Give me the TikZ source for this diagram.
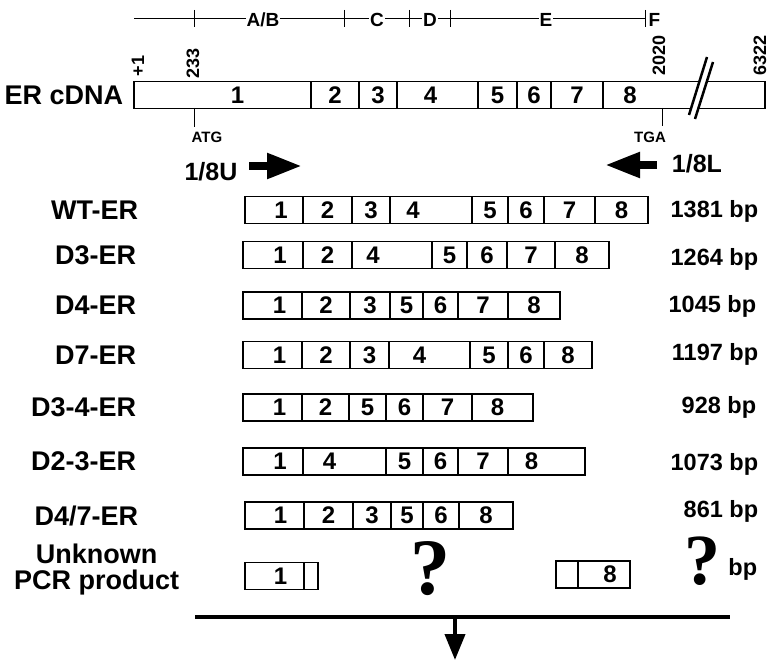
\documentclass[tikz,border=0pt]{standalone}
\usepackage{fontspec}
\setmainfont{Liberation Sans}
\newfontfamily\qmfont{Liberation Serif}
\usetikzlibrary{arrows.meta, positioning}

\begin{document}
\begin{tikzpicture}[
    x=1pt, y=-1pt, line width=1pt,
    exnum/.style={font=\fontsize{24}{24}\selectfont\bfseries},
    exon/.style={draw, line width=1.3pt, minimum height=27pt, inner sep=0pt,
        outer sep=0pt, exnum},
    exbox/.style={exon, minimum width=#1},
    exnumat/.style 2 args={label={[exnum, xshift=#1]center:#2}},
    rowlab/.style={anchor=east, font=\fontsize{27}{26}\selectfont\bfseries},
    primlab/.style={anchor=base, font=\fontsize{25}{25}\selectfont\bfseries},
    bplab/.style={anchor=base east, font=\fontsize{23.5}{23.5}\selectfont\bfseries},
    sitelab/.style={rotate=90, anchor=west, inner sep=1pt,
        font=\fontsize{18}{18}\selectfont\bfseries},
    domlab/.style={anchor=base, fill=white, inner sep=1pt,
        font=\fontsize{19}{19}\selectfont\bfseries},
    codon/.style={font=\fontsize{15}{15}\selectfont\bfseries},
    primer/.style={line width=8pt, -{Triangle[length=35pt, width=24pt]}},
    qm/.style={font=\fontsize{80}{80}\qmfont\bfseries}
  ]
  \useasboundingbox (0,0) rectangle (769,661);

  % domain ruler
  \draw (134,19) -- (645,19);
  \draw (194,10) -- (194,27) (344,10) -- (344,27) (409,10) -- (409,27)
        (450,10) -- (450,27) (645,10) -- (645,27);
  \node[domlab] (ab) at (263,27) {A/B};
  \node[domlab] (dc) at (377,27) {C};
  \node[domlab] (dd) at (430,27) {D};
  \node[domlab] (de) at (546,27) {E};
  \node[domlab, anchor=base west] (df) at (647,27) {F};

  % ER cDNA
  \node[exbox=177pt, anchor=west, exnumat={15pt}{1}] (c1) at (134,95) {};
  \node[exbox=48pt, right=0pt of c1] (c2) {2};
  \node[exbox=38pt, right=0pt of c2] (c3) {3};
  \node[exbox=81pt, right=0pt of c3, exnumat={-7pt}{4}] (c4) {};
  \node[exbox=39pt, right=0pt of c4] (c5) {5};
  \node[exbox=34pt, right=0pt of c5] (c6) {6};
  \node[exbox=52pt, right=0pt of c6] (c7) {7};
  \node[exbox=162pt, right=0pt of c7, exnumat={-54pt}{8}] (c8) {};
  \node[rowlab, left=7pt of c1] (cdna) {ER cDNA};

  \node[sitelab] (s1) at (138,78) {+1};
  \node[sitelab] (s233) at (193,80) {233};
  \node[sitelab] (s2020) at (659,77) {2020};
  \node[sitelab] (s6322) at (760,77) {6322};

  \fill[white] (707,57) -- (713,62) -- (695,119) -- (689,115) -- cycle;
  \draw[line width=2.5pt] (707,57) -- (689,115) (713,62) -- (695,119);

  \draw (194,108) -- (194,127);
  \draw (662,108) -- (662,126);
  \node[codon] (atg) at (207,137) {ATG};
  \node[codon] (tga) at (650,137) {TGA};

  % primers
  \node[primlab] (pu) at (211,180) {1/8U};
  \node[primlab] (pl) at (697,172) {1/8L};
  \coordinate (pu-tail) at (249,166);
  \coordinate (pu-tip) at (302,166);
  \coordinate (pl-tail) at (657,165);
  \coordinate (pl-tip) at (605,165);
  \draw[primer] (pu-tail) -- (pu-tip);
  \draw[primer] (pl-tail) -- (pl-tip);

  % WT-ER
  \node[exbox=58pt, anchor=west, exnumat={7pt}{1}] (wt1) at (245,210) {};
  \node[exbox=49pt, right=0pt of wt1] (wt2) {2};
  \node[exbox=38pt, right=0pt of wt2] (wt3) {3};
  \node[exbox=82pt, right=0pt of wt3, exnumat={-18pt}{4}] (wt4) {};
  \node[exbox=36pt, right=0pt of wt4] (wt5) {5};
  \node[exbox=36pt, right=0pt of wt5] (wt6) {6};
  \node[exbox=51pt, right=0pt of wt6] (wt7) {7};
  \node[exbox=53pt, right=0pt of wt7] (wt8) {8};
  \node[rowlab, left=103pt of wt1] (wt) {WT-ER};
  \node[bplab] (bp-wt) at (762,217) {1381 bp};

  % D3-ER
  \node[exbox=60pt, anchor=west, exnumat={7pt}{1}] (d3-1) at (243,255) {};
  \node[exbox=49pt, right=0pt of d3-1] (d3-2) {2};
  \node[exbox=80pt, right=0pt of d3-2, exnumat={-19pt}{4}] (d3-4) {};
  \node[exbox=35pt, right=0pt of d3-4] (d3-5) {5};
  \node[exbox=40pt, right=0pt of d3-5] (d3-6) {6};
  \node[exbox=48pt, right=0pt of d3-6] (d3-7) {7};
  \node[exbox=54pt, right=0pt of d3-7] (d3-8) {8};
  \node[rowlab, left=103pt of d3-1] (d3) {D3-ER};
  \node[bplab] (bp-d3) at (762,265) {1264 bp};

  % D4-ER
  \node[exbox=59pt, anchor=west, exnumat={7pt}{1}] (d4-1) at (243,305.5) {};
  \node[exbox=48pt, right=0pt of d4-1] (d4-2) {2};
  \node[exbox=40pt, right=0pt of d4-2] (d4-3) {3};
  \node[exbox=33pt, right=0pt of d4-3] (d4-5) {5};
  \node[exbox=35pt, right=0pt of d4-5] (d4-6) {6};
  \node[exbox=50pt, right=0pt of d4-6] (d4-7) {7};
  \node[exbox=52pt, right=0pt of d4-7] (d4-8) {8};
  \node[rowlab, left=103pt of d4-1] (d4) {D4-ER};
  \node[bplab] (bp-d4) at (760,312) {1045 bp};

  % D7-ER
  \node[exbox=59pt, anchor=west, exnumat={7pt}{1}] (d7-1) at (243,355) {};
  \node[exbox=48pt, right=0pt of d7-1] (d7-2) {2};
  \node[exbox=39pt, right=0pt of d7-2] (d7-3) {3};
  \node[exbox=81pt, right=0pt of d7-3, exnumat={-10pt}{4}] (d7-4) {};
  \node[exbox=38pt, right=0pt of d7-4] (d7-5) {5};
  \node[exbox=36pt, right=0pt of d7-5] (d7-6) {6};
  \node[exbox=48pt, right=0pt of d7-6] (d7-8) {8};
  \node[rowlab, left=103pt of d7-1] (d7) {D7-ER};
  \node[bplab] (bp-d7) at (762,360) {1197 bp};

  % D3-4-ER
  \node[exbox=59pt, anchor=west, exnumat={7pt}{1}] (d34-1) at (243,407.5) {};
  \node[exbox=47pt, right=0pt of d34-1] (d34-2) {2};
  \node[exbox=37pt, right=0pt of d34-2] (d34-5) {5};
  \node[exbox=37pt, right=0pt of d34-5] (d34-6) {6};
  \node[exbox=49pt, right=0pt of d34-6] (d34-7) {7};
  \node[exbox=61pt, right=0pt of d34-7, exnumat={-5pt}{8}] (d34-8) {};
  \node[rowlab, left=103pt of d34-1] (d34) {D3-4-ER};
  \node[bplab] (bp-d34) at (760,413) {928 bp};

  % D2-3-ER
  \node[exbox=60pt, anchor=west, exnumat={7pt}{1}] (d23-1) at (243,461.5) {};
  \node[exbox=83pt, right=0pt of d23-1, exnumat={-15pt}{4}] (d23-4) {};
  \node[exbox=37pt, right=0pt of d23-4] (d23-5) {5};
  \node[exbox=35pt, right=0pt of d23-5] (d23-6) {6};
  \node[exbox=50pt, right=0pt of d23-6] (d23-7) {7};
  \node[exbox=77pt, right=0pt of d23-7, exnumat={-15pt}{8}] (d23-8) {};
  \node[rowlab, left=103pt of d23-1] (d23) {D2-3-ER};
  \node[bplab] (bp-d23) at (762,470) {1073 bp};

  % D4/7-ER
  \node[exbox=59pt, anchor=west, exnumat={6pt}{1}] (d47-1) at (245,515.5) {};
  \node[exbox=49pt, right=0pt of d47-1] (d47-2) {2};
  \node[exbox=38pt, right=0pt of d47-2] (d47-3) {3};
  \node[exbox=32pt, right=0pt of d47-3] (d47-5) {5};
  \node[exbox=36pt, right=0pt of d47-5] (d47-6) {6};
  \node[exbox=54pt, right=0pt of d47-6] (d47-8) {8};
  \node[rowlab, left=103pt of d47-1] (d47) {D4/7-ER};
  \node[bplab] (bp-d47) at (762,517) {861 bp};

  % unknown product
  \node[exbox=59pt, anchor=west, exnumat={6pt}{1}] (u1) at (245,576) {};
  \node[exbox=14pt, right=0pt of u1] (u2) {};
  \node[exbox=22pt, anchor=west] (u7) at (556,574.5) {};
  \node[exbox=52pt, right=0pt of u7, exnumat={6pt}{8}] (u8) {};
  \node[rowlab, align=center, left=62pt of u1, yshift=6pt] (unk)
    {Unknown\\PCR product};
  \node[qm] (q1) at (430,569) {?};
  \node[qm, font=\fontsize{72}{72}\qmfont\bfseries] (q2) at (702,561) {?};
  \node[bplab] (bp-u) at (761,575) {bp};

  % pooled products
  \coordinate (bar-l) at (195,617);
  \coordinate (bar-r) at (730,617);
  \coordinate (out) at (455,660);
  \draw[line width=4pt] (bar-l) -- (bar-r);
  \draw[line width=4pt, -{Triangle[length=26pt, width=20pt]}]
    (out |- bar-l) -- (out);
\end{tikzpicture}
\end{document}
